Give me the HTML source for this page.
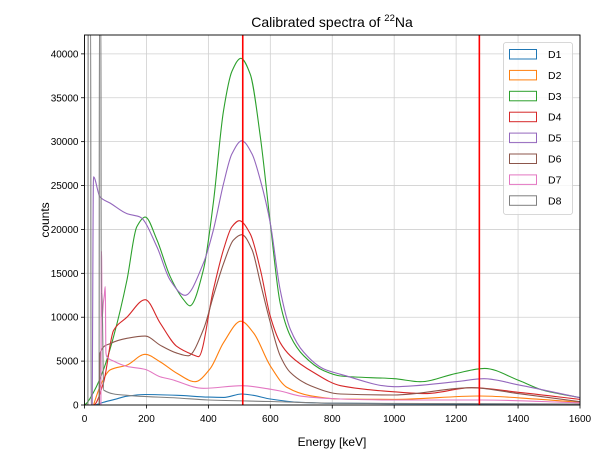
<!DOCTYPE html>
<html><head><meta charset="utf-8"><style>
body{margin:0;background:#fff;}
svg{font-family:"Liberation Sans","DejaVu Sans",sans-serif;}
</style></head><body>
<svg id="chart" width="607" height="458" viewBox="0 0 607 458" xmlns="http://www.w3.org/2000/svg">
<defs><clipPath id="clip"><rect x="84.5" y="35" width="495.5" height="370"/></clipPath></defs>
<rect width="607" height="458" fill="#fff"/>
<g id="grid"></g>
<g id="series" clip-path="url(#clip)"></g>
<g id="lines" clip-path="url(#clip)"></g>
<rect x="84.5" y="35" width="495.5" height="370" fill="none" stroke="#000" stroke-width="0.9"/>
<g id="axes"></g>
<text x="332" y="27" text-anchor="middle" font-size="14">Calibrated spectra of <tspan font-size="9.5" dy="-6">22</tspan><tspan dy="6">Na</tspan></text>
<text x="332" y="446" text-anchor="middle" font-size="12">Energy [keV]</text>
<text x="0" y="0" transform="translate(49,220) rotate(-90)" text-anchor="middle" font-size="12">counts</text>
<g id="legend"></g>
</svg>
<script>
const xTicks=[0,200,400,600,800,1000,1200,1400,1600];
const yTicks=[0,5000,10000,15000,20000,25000,30000,35000,40000];
const refLines=[511,1275];
const names=["D1","D2","D3","D4","D5","D6","D7","D8"];
const colors=["#1f77b4","#ff7f0e","#2ca02c","#d62728","#9467bd","#8c564b","#e377c2","#7f7f7f"];
const d1E=[36,60,94,137,196,300,400,450,508,545,600,700,800,1000,1600];
const d1C=[0,300,600,1000,1200,1100,900,870,1250,1100,680,300,200,150,100];
const d2E=[29,50,83,137,196,245,299,357,405,449,505,546,600,654,730,827,1000,1275,1450,1600];
const d2C=[0,2100,4000,4550,5770,4900,3600,2650,4100,7100,9550,8200,4450,2000,1050,680,640,1020,700,300];
const d3E=[0,7,30,61,94,137,169,196,234,277,320,340,384,416,449,476,505,535,568,600,632,665,708,773,827,1000,1084,1200,1292,1400,1480,1600];
const d3C=[0,200,1500,4000,7800,14200,20300,21400,18800,14600,12000,11300,15400,23000,33500,38000,39500,37700,30500,20700,11600,7850,5600,3900,3300,3000,2650,3600,4170,2840,1700,830];
const d4E=[0,29,61,94,137,196,245,299,352,368,416,449,476,500,535,568,600,632,665,740,827,1000,1100,1250,1400,1600];
const d4C=[0,0,2500,8500,10000,12000,9300,6650,5700,5500,13100,17700,20300,21000,19500,15400,10100,7100,5600,3700,2200,1500,1300,1970,1450,640];
const d5E=[25,29,50,83,137,180,234,277,325,384,416,449,476,508,541,568,600,632,665,708,773,827,1000,1200,1290,1400,1600];
const d5C=[0,26000,23700,23000,21800,21400,18000,14200,12500,16150,19900,25200,28600,30100,28600,25600,20700,13100,8600,6000,4100,3500,2080,2650,3000,2300,830];
const d6E=[48,50,83,137,196,245,299,335,384,416,449,481,508,541,568,600,632,665,730,827,1000,1250,1400,1600];
const d6C=[0,5900,7000,7600,7850,6800,5900,5600,8600,12400,16100,18800,19400,17700,13900,9400,5600,3700,2200,1250,1140,1970,1300,380];
const d7E=[53,55,57,61,64,67,69,72,94,137,196,245,276,384,508,600,632,700,827,1000,1280,1600];
const d7C=[0,17500,10000,11700,12500,13500,6000,5500,5000,4400,4050,3200,2950,1900,2200,1800,1600,1000,680,570,570,250];
const d8E=[11,12,20,21,47,48,53,54,56,62,137,300,400,600,800,1600];
const d8C=[0,45000,45000,0,0,45000,45000,12700,12700,1700,1100,800,570,400,200,100];
const seriesE=[d1E,d2E,d3E,d4E,d5E,d6E,d7E,d8E];
const seriesC=[d1C,d2C,d3C,d4C,d5C,d6C,d7C,d8C];

const X0=84.5,X1=580,Y0=405,Y1=35,XMAX=1600,YMAX=42150;
const sx=v=>X0+(v/XMAX)*(X1-X0);
const sy=v=>Y0-(v/YMAX)*(Y0-Y1);
const NS="http://www.w3.org/2000/svg";
function mk(tag,attrs,parent){const e=document.createElementNS(NS,tag);for(const k in attrs)e.setAttribute(k,attrs[k]);parent.appendChild(e);return e;}
const grid=document.getElementById('grid'),axes=document.getElementById('axes');
xTicks.forEach(t=>{
  const g=mk('line',{x1:sx(t),x2:sx(t),y1:Y1,y2:Y0,stroke:'#d0d0d0','stroke-width':0.8},grid);
  
  
  const tk=mk('line',{x1:sx(t),x2:sx(t),y1:Y0,y2:Y0+3.5,stroke:'#000','stroke-width':0.8},axes);
  
  
  const tx=mk('text',{x:sx(t),y:Y0+17,'text-anchor':'middle','font-size':10},axes);
  tx.textContent=t;
  
  
});
yTicks.forEach(t=>{
  const g=mk('line',{x1:X0,x2:X1,y1:sy(t),y2:sy(t),stroke:'#d0d0d0','stroke-width':0.8},grid);
  
  
  const tk=mk('line',{x1:X0-3.5,x2:X0,y1:sy(t),y2:sy(t),stroke:'#000','stroke-width':0.8},axes);
  
  
  const tx=mk('text',{x:X0-6,y:sy(t)+3.5,'text-anchor':'end','font-size':10},axes);
  tx.textContent=t;
  
  
});
// monotone cubic (Fritsch-Carlson) path in pixel space
function monoPath(P){
  const n=P.length,dx=[],s=[],m=new Array(n);
  for(let i=0;i<n-1;i++){dx.push(P[i+1][0]-P[i][0]);s.push((P[i+1][1]-P[i][1])/dx[i]);}
  m[0]=s[0];m[n-1]=s[n-2];
  for(let i=1;i<n-1;i++){
    if(s[i-1]*s[i]<=0)m[i]=0;
    else{const w1=2*dx[i]+dx[i-1],w2=dx[i]+2*dx[i-1];m[i]=(w1+w2)/(w1/s[i-1]+w2/s[i]);}
  }
  let d='M'+P[0][0].toFixed(1)+','+P[0][1].toFixed(1);
  for(let i=0;i<n-1;i++){
    const h=dx[i]/3;
    d+=' C'+(P[i][0]+h).toFixed(1)+','+(P[i][1]+m[i]*h).toFixed(1)+' '+(P[i+1][0]-h).toFixed(1)+','+(P[i+1][1]-m[i+1]*h).toFixed(1)+' '+P[i+1][0].toFixed(1)+','+P[i+1][1].toFixed(1);
  }
  return d;
}
const sg=document.getElementById('series');
seriesE.forEach((E,i)=>{
  const C=seriesC[i];
  const P=E.map((e,j)=>[sx(e),sy(C[j])]);
  const p=mk('path',{d:monoPath(P),fill:'none',stroke:colors[i],'stroke-width':1.1,'stroke-linejoin':'round'},sg);
  
  
});
const lg=document.getElementById('lines');
refLines.forEach(v=>{
  const l=mk('line',{x1:sx(v),x2:sx(v),y1:Y1,y2:Y0,stroke:'#ff0000','stroke-width':1.6},lg);
  
  
});
const leg=document.getElementById('legend');
const box=mk('rect',{x:503.5,y:42.5,width:69,height:172,rx:2.5,fill:'#fff','fill-opacity':0.8,stroke:'#cccccc','stroke-width':0.8},leg);


names.forEach((n,i)=>{
  const y=54+i*20.9;
  const r=mk('rect',{x:509.5,y:y-4.5,width:27,height:9.5,fill:'none',stroke:colors[i],'stroke-width':1},leg);
  
  
  const t=mk('text',{x:548,y:y+4,'font-size':10.5},leg);
  t.textContent=n;
  
  
});
</script>
</body></html>
